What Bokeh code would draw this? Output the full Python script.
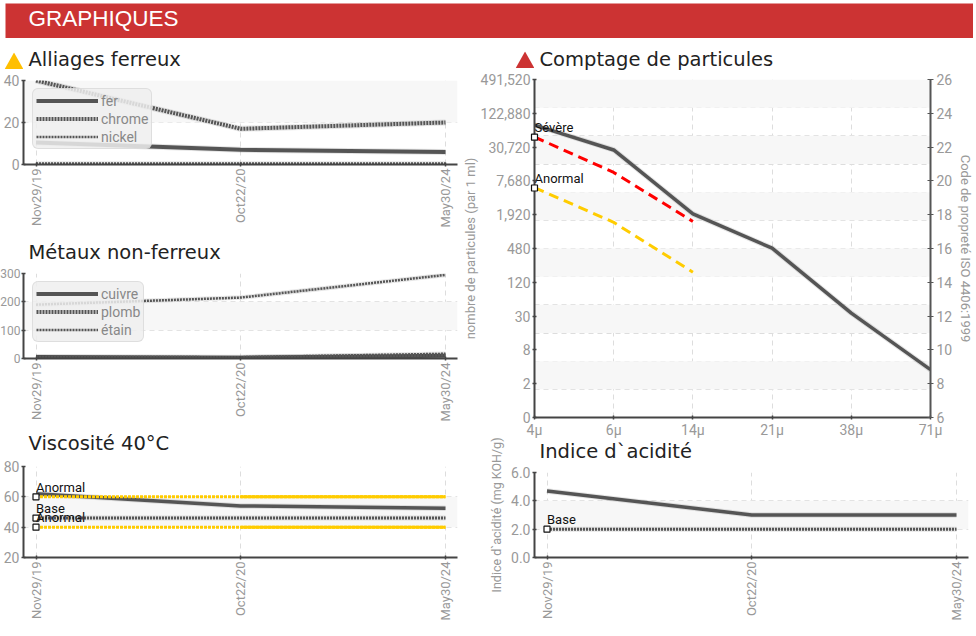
from bokeh.embed import file_html
from bokeh.resources import INLINE
from bokeh.layouts import column, row
from bokeh.models import (BoxAnnotation, FixedTicker, Label, Legend, LegendItem, LinearAxis,
                          ColumnDataSource)
from bokeh.plotting import figure
from bokeh.core.properties import value

DATES = ["Nov29/19", "Oct22/20", "May30/24"]
FER = [10.5, 7, 6]
CHROME = [40, 17, 20]
NICKEL = [0.5, 0.5, 0.5]
CUIVRE = [5, 3, 10]
PLOMB = [3, 2, 14]
ETAIN = [190, 215, 295]
VISC = [62, 54, 52.5]
VISC_HIGH = [60, 60, 60]
VISC_BASE = [46, 46, 46]
VISC_LOW = [40, 40, 40]
ACID = [4.7, 3.0, 3.0]
ACID_BASE = [2, 2, 2]
SIZES = ["4µ", "6µ", "14µ", "21µ", "38µ", "71µ"]
COUNT_LEFT = ["0", "2", "8", "30", "120", "480", "1,920", "7,680", "30,720", "122,880", "491,520"]
CODES = [6, 8, 10, 12, 14, 16, 18, 20, 22, 24, 26]
PART = [23.3, 21.83, 18.05, 16.02, 12.18, 8.83]
PART_SEV = [22.6, 20.5, 17.6]
PART_ANO = [19.6, 17.55, 14.6]

NARROW = "Roboto"
GREY = "#555555"
YELLOW = "#FFCC00"


def base(w, h, left, right, top, bottom, title, xr, yr, yt, ylabels, xt, xlabels, xorient=1.5708, ygrid=None, standoff=18):
    p = figure(width=w, height=h, x_range=xr, y_range=yr, output_backend="svg", toolbar_location=None,
               min_border_left=left, min_border_right=right, min_border_top=top, min_border_bottom=bottom,
               title=title, outline_line_color=None, background_fill_color="white", background_fill_alpha=0,
               border_fill_alpha=0)
    p.title.text_font = "DejaVu Sans"
    p.title.text_font_size = "19.5px"
    p.title.text_font_style = "normal"
    p.title.text_color = "#222222"
    p.title.offset = 5
    p.title.standoff = standoff
    for ax, ticks, labels in ((p.yaxis[0], yt, ylabels), (p.xaxis[0], xt, xlabels)):
        ax.ticker = FixedTicker(ticks=ticks)
        ax.major_label_overrides = {t: l for t, l in zip(ticks, labels)}
        ax.major_label_text_font = NARROW
        ax.major_label_text_font_size = "14px"
        ax.major_label_text_color = "#999999"
        ax.axis_line_color = "#444444"
        ax.axis_line_width = 2
        ax.major_tick_line_color = "#444444"
        ax.major_tick_line_width = 1.5
        ax.major_tick_in = 2
        ax.major_tick_out = 2
        ax.minor_tick_line_color = None
        ax.major_label_standoff = 2
    p.xaxis[0].major_label_orientation = xorient
    if xorient != "horizontal":
        p.xaxis[0].major_label_text_font_size = "13px"
    for g, t in ((p.xgrid[0], xt), (p.ygrid[0], ygrid if ygrid is not None else yt)):
        g.ticker = FixedTicker(ticks=t)
        g.grid_line_color = "#dddddd"
        g.grid_line_dash = "5 4"
        g.grid_line_width = 1
    return p


def band(p, lo, hi):
    p.add_layout(BoxAnnotation(bottom=lo, top=hi, fill_color="#F7F7F7", fill_alpha=1, line_color=None, level="underlay"))


def tri(color, margin):
    t = figure(width=19, height=17, x_range=(0, 1), y_range=(0, 1), output_backend="svg", toolbar_location=None,
               min_border=0, outline_line_color=None, background_fill_alpha=0, border_fill_alpha=0)
    t.axis.visible = False
    t.grid.visible = False
    t.patch([0, 1, 0.5], [0, 0, 1], fill_color=color, line_color=None)
    return row(t, margin=margin)


def ln(p, x, y, width, dash="solid", color=GREY):
    p.line(x, y, line_color="#000000", line_alpha=0.10, line_width=width + 2)
    return p.line(x, y, line_color=color, line_width=width, line_dash=dash)


def squares(p, x, y):
    p.scatter(x, y, marker="square", size=6, fill_color="white", line_color="#111111", line_width=1.2)


def names(p, x, y, t):
    s = ColumnDataSource(dict(x=x, y=y, t=t))
    p.text("x", "y", text="t", source=s, text_font=value(NARROW), text_font_size="13px", text_color="#111111",
           text_baseline="bottom", y_offset=-2)


def legend(p, items, x, y):
    lg = Legend(items=[LegendItem(label=value(n), renderers=[r]) for n, r in items], location=(x, y),
                background_fill_color="#EEEEEE", background_fill_alpha=0.85, border_line_color="#CCCCCC",
                label_text_font=NARROW, label_text_font_size="14px", label_text_color="#888888",
                glyph_width=62, glyph_height=15, label_height=17, label_standoff=3, spacing=1, padding=3, margin=0)
    if "border_radius" in Legend.properties():
        lg.border_radius = 6
    p.add_layout(lg, "center")


pos = [0, 1, 2]
rng = (-12.5 / 204.75, 421.5 / 204.75)

# header
hd = figure(width=968, height=35, x_range=(0, 1), y_range=(0, 1), output_backend="svg", toolbar_location=None,
            min_border=0, outline_line_color=None, background_fill_color="#CC3333", margin=(3, 3, 2, 5))
hd.axis.visible = False
hd.grid.visible = False
hd.add_layout(Label(x=23, y=8, x_units="screen", y_units="screen", text="GRAPHIQUES", text_color="white",
                    text_font="Liberation Sans", text_font_size="22.5px"))

# Alliages ferreux
p1 = base(465, 195, 23, 8, 45, 65, "Alliages ferreux", rng, (0, 40), [0, 20, 40], ["0", "20", "40"], pos, DATES, standoff=19)
band(p1, 20, 40)
r1 = ln(p1, pos, FER, 4)
r2 = ln(p1, pos, CHROME, 4, "2 1")
r3 = ln(p1, pos, NICKEL, 2.5, "2 1")
legend(p1, [("fer", r1), ("chrome", r2), ("nickel", r3)], 9, 15)

# Métaux non-ferreux
p2 = base(469, 200, 27, 4, 48, 67, "Métaux non-ferreux", rng, (0, 300), [0, 100, 200, 300],
          ["0", "100", "200", "300"], pos, DATES, standoff=20)
p2.yaxis[0].major_label_text_font_size = "12px"
p2.yaxis[0].major_label_standoff = 1
band(p2, 100, 200)
r4 = ln(p2, pos, CUIVRE, 4)
r5 = ln(p2, pos, PLOMB, 4, "2 1")
r6 = ln(p2, pos, ETAIN, 2.5, "2 1")
legend(p2, [("cuivre", r4), ("plomb", r5), ("étain", r6)], 9, 16)

# Viscosité
p3 = base(465, 221, 23, 8, 51, 79, "Viscosité 40°C", rng, (20, 80), [20, 40, 60, 80], ["20", "40", "60", "80"], pos, DATES, standoff=24)
band(p3, 40, 60)
ln(p3, pos, VISC, 3.5)
for lim in (VISC_HIGH, VISC_LOW):
    p3.line(pos, lim, line_color=YELLOW, line_width=3, line_dash="3 1")
    p3.line(pos[1:], lim[1:], line_color=YELLOW, line_width=3)
ln(p3, pos, VISC_BASE, 3, "2 1")
lims3 = [VISC_HIGH[0], VISC_BASE[0], VISC_LOW[0]]
squares(p3, [0, 0, 0], lims3)
names(p3, [0, 0, 0], lims3, ["Anormal", "Base", "Anormal"])

# Comptage
ticks4 = [0, 1, 2, 3, 4, 5]
p4 = base(521, 405, 79, 44, 44, 22, "Comptage de particules", (0, 5), (6, 26), CODES, COUNT_LEFT,
          ticks4, SIZES, xorient="horizontal", ygrid=[26 - i * 20 / 12 for i in range(13)])
for i in range(6):
    band(p4, 26 - (2 * i + 1) * 20 / 12, 26 - 2 * i * 20 / 12)
p4.yaxis[0].axis_label = "nombre de particules (par 1 ml)"
ra = LinearAxis(ticker=FixedTicker(ticks=CODES), major_label_text_font=NARROW, major_label_text_font_size="14px",
                major_label_text_color="#999999", axis_line_color="#555555", axis_line_width=2,
                major_tick_line_color="#555555", major_tick_in=3, major_tick_out=3, minor_tick_line_color=None,
                major_label_standoff=3, axis_label="Code de propreté ISO 4406:1999")
p4.add_layout(ra, "right")
for ax in (p4.yaxis[0], ra):
    ax.axis_label_text_font = NARROW
    ax.axis_label_text_font_size = "13px"
    ax.axis_label_text_font_style = "normal"
    ax.axis_label_text_color = "#999999"
    ax.axis_label_standoff = 3
p4.yaxis[0].axis_label_standoff = 0
ln(p4, ticks4, PART, 3.5)
p4.line(ticks4[:3], PART_SEV, line_color="#FF0000", line_width=3, line_dash="10 6")
p4.line(ticks4[:3], PART_ANO, line_color=YELLOW, line_width=3, line_dash="10 6")
lims4 = [PART_SEV[0], PART_ANO[0]]
names(p4, [0, 0], lims4, ["Sévère", "Anormal"])

# squares of the first limit points, on a strip that shares the chart's vertical scale
half = 6 / 79.6
s4 = figure(width=12, height=339, x_range=(-half, half), y_range=p4.y_range, output_backend="svg", toolbar_location=None,
            min_border=0, outline_line_color=None, background_fill_alpha=0, border_fill_alpha=0)
s4.axis.visible = False
s4.grid.visible = False
squares(s4, [0, 0], lims4)

# Acidité
p5 = base(521, 209, 79, 8, 45, 79, "Indice d`acidité", rng, (0, 6), [0, 2, 4, 6], ["0.0", "2.0", "4.0", "6.0"], pos, DATES, standoff=19)
band(p5, 2, 4)
p5.yaxis[0].axis_label = "Indice d`acidité (mg KOH/g)"
p5.yaxis[0].axis_label_text_font = NARROW
p5.yaxis[0].axis_label_text_font_size = "12.5px"
p5.yaxis[0].axis_label_text_font_style = "normal"
p5.yaxis[0].axis_label_text_color = "#999999"
p5.yaxis[0].axis_label_standoff = 4
ln(p5, pos, ACID, 3.5)
ln(p5, pos, ACID_BASE, 3, "2 1")
squares(p5, [0], [ACID_BASE[0]])
names(p5, [0], [ACID_BASE[0]], ["Base"])

t1 = tri("#FFBF00", (12, 0, -29, 4))
t4 = tri("#CC3333", (11, 0, -28, 60))
left = column(t1, row(p1, margin=(-5, 0, 0, 0)), row(p2, margin=(-5, 0, 0, -4)), row(p3, margin=(-10, 0, 0, 0)))
right = column(t4, row(p4, margin=(-5, 0, 0, 0)), row(s4, margin=(-361, 0, 9, 73)), row(p5), margin=(0, 0, 0, -10))
root = column(hd, row(left, right))
open("out.html", "w").write(file_html(root, INLINE))
